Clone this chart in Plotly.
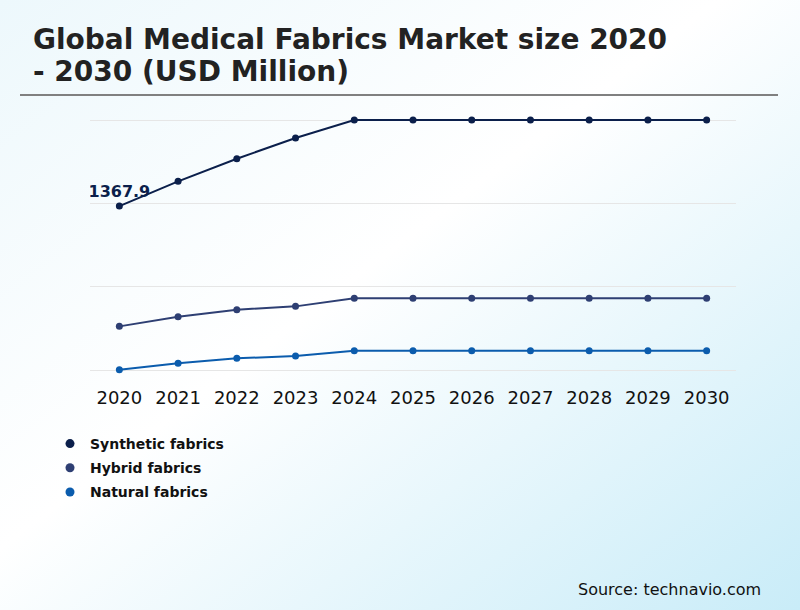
import base64
import plotly.graph_objects as go

# chart data (USD Million)
years = ["2020", "2021", "2022", "2023", "2024", "2025", "2026", "2027", "2028", "2029", "2030"]
synthetic = [1367.9, 1516, 1652, 1776, 1884, 1884, 1884, 1884, 1884, 1884, 1884]
hybrid = [646, 704, 746, 766, 814, 814, 814, 814, 814, 814, 814]
natural = [386, 424, 454, 468, 500, 500, 500, 500, 500, 500, 500]
series_names = ["Synthetic fabrics", "Hybrid fabrics", "Natural fabrics"]
series_colors = ["#0b1f4b", "#2e3f73", "#0b5cad"]

W, H = 800, 610
FONT = "DejaVu Sans"


def px_x(v):
    return v / W


def px_y(v):
    return 1 - v / H


# Soft diagonal gradient behind the whole figure
def background_uri():
    svg = (
        '<svg xmlns="http://www.w3.org/2000/svg" width="800" height="610">'
        '<defs><linearGradient id="g" x1="0" y1="0" x2="1" y2="1">'
        '<stop offset="0" stop-color="#edf8fc"/>'
        '<stop offset="0.45" stop-color="#ffffff"/>'
        '<stop offset="1" stop-color="#c9ecf8"/>'
        '</linearGradient></defs>'
        '<rect width="800" height="610" fill="url(#g)"/></svg>'
    )
    return "data:image/svg+xml;base64," + base64.b64encode(svg.encode()).decode()


def build_figure():
    fig = go.Figure()
    for name, vals, col in zip(series_names, [synthetic, hybrid, natural], series_colors):
        fig.add_trace(go.Scatter(
            x=years, y=vals, mode="lines+markers", name=name,
            line=dict(color=col, width=2), marker=dict(color=col, size=7),
            showlegend=False, hoverinfo="x+y+name",
        ))
    # legend entries: dot only
    for name, col in zip(series_names, series_colors):
        fig.add_trace(go.Scatter(
            x=[None], y=[None], mode="markers", name=name, legendgroup=name,
            marker=dict(color=col, size=9),
        ))

    # first value label on the synthetic line (invisible marker pushes the text up)
    fig.add_trace(go.Scatter(
        x=years[:1], y=synthetic[:1], mode="markers+text", text=["<b>%s</b>" % synthetic[0]],
        textposition="top center", showlegend=False, hoverinfo="skip",
        marker=dict(size=7, color="rgba(0,0,0,0)"),
        textfont=dict(family=FONT, size=16, color=series_colors[0]),
    ))

    # title (two lines) and rule
    fig.add_annotation(
        x=px_x(31), y=px_y(40), xref="paper", yref="paper", xanchor="left", yanchor="middle",
        text="<b>Global Medical Fabrics Market size 2020</b>", showarrow=False,
        font=dict(family=FONT, size=28, color="#222222"),
    )
    fig.add_annotation(
        x=px_x(31), y=px_y(71), xref="paper", yref="paper", xanchor="left", yanchor="middle",
        text="<b>- 2030 (USD Million)</b>", showarrow=False,
        font=dict(family=FONT, size=28, color="#222222"),
    )
    fig.add_shape(
        type="line", xref="paper", yref="paper",
        x0=px_x(20), x1=px_x(778), y0=px_y(95), y1=px_y(95),
        line=dict(color="#808080", width=2),
    )
    fig.add_annotation(
        x=px_x(763), y=px_y(589), xref="paper", yref="paper", xanchor="right", yanchor="middle",
        text="Source: technavio.com", showarrow=False,
        font=dict(family=FONT, size=16, color="#111111"),
    )

    fig.add_layout_image(
        source=background_uri(), xref="paper", yref="paper", x=0, y=1,
        sizex=1, sizey=1, sizing="stretch", xanchor="left", yanchor="top", layer="below",
    )

    fig.update_layout(
        width=W, height=H,
        margin=dict(l=0, r=0, t=0, b=0, autoexpand=False),
        paper_bgcolor="white", plot_bgcolor="rgba(0,0,0,0)",
        font=dict(family=FONT),
        legend=dict(
            x=px_x(50), y=px_y(428), xanchor="left", yanchor="top",
            bgcolor="rgba(0,0,0,0)", itemwidth=30, tracegroupgap=3,
            font=dict(family=FONT, size=14, color="#111111", weight="bold"),
        ),
        xaxis=dict(
            domain=[px_x(90), px_x(736)], range=[-0.5, 10.5], type="category",
            showgrid=False, zeroline=False, showline=False, automargin=False,
            ticklabelstandoff=5,
            tickfont=dict(family=FONT, size=18, color="#111111"),
        ),
        yaxis=dict(
            domain=[px_y(380.3), px_y(110.3)], range=[322.4, 1942.4],
            tick0=382.4, dtick=500, showticklabels=False, automargin=False,
            gridcolor="#e6e6e6", gridwidth=1, zeroline=False, showline=False,
        ),
    )
    return fig


def main():
    fig = build_figure()
    # page without the default body margin so the figure fills the window
    fig.write_html("out.html", config={"displayModeBar": False},
                   post_script="document.body.style.margin='0';")


if __name__ == "__main__":
    main()
